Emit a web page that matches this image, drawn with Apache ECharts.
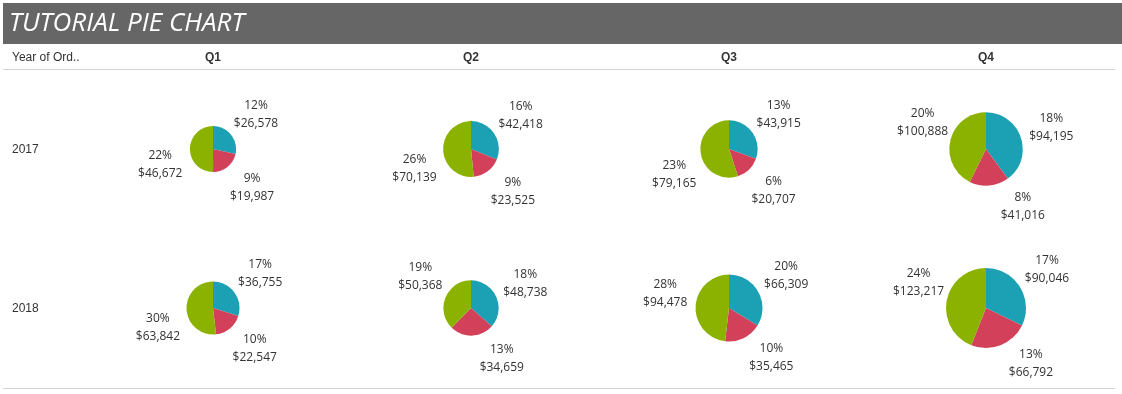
<!DOCTYPE html>
<html>
<head>
<meta charset="utf-8">
<script src="https://cdn.jsdelivr.net/npm/echarts@6/dist/echarts.min.js"></script>
<style>
html,body{margin:0;padding:0;background:#fff;}
#chart{width:1122px;height:394px;}
</style>
</head>
<body>
<div id="chart"></div>
<script>
// ---- data ----
const quarters = ['Q1', 'Q2', 'Q3', 'Q4'];
const years = ['2017', '2018'];
const tealValues  = [[26578, 42418, 43915, 94195], [36755, 48738, 66309, 90046]];
const redValues   = [[19987, 23525, 20707, 41016], [22547, 34659, 35465, 66792]];
const greenValues = [[46672, 70139, 79165, 100888], [63842, 50368, 94478, 123217]];
const tealPct  = [[12, 16, 13, 18], [17, 18, 20, 17]];
const redPct   = [[9, 9, 6, 8], [10, 13, 10, 13]];
const greenPct = [[22, 26, 23, 20], [30, 19, 28, 24]];

// ---- layout / style ----
const colX = [213, 471, 729, 986];
const rowY = [149, 308];
const colors = ['#1ca0b4', '#d2405a', '#8cb200'];
const maxRadius = 40;
const labelGap = 29;

let maxTotal = 0;
years.forEach((y, yi) => quarters.forEach((q, qi) => {
  const t = tealValues[yi][qi] + redValues[yi][qi] + greenValues[yi][qi];
  if (t > maxTotal) maxTotal = t;
}));

// label placement rule: labels drift away from the horizontal/vertical axes
function labelAngle(deg) {
  if (deg >= 110 && deg < 200) return 0.35 * deg + 85;
  if (deg >= 200) return deg < 272 ? deg - 17 : deg + 10;
  return deg;
}

const fmt = v => '$' + v.toLocaleString('en-US');
const series = [];
years.forEach((y, yi) => quarters.forEach((q, qi) => {
  const vals = [tealValues[yi][qi], redValues[yi][qi], greenValues[yi][qi]];
  const pcts = [tealPct[yi][qi], redPct[yi][qi], greenPct[yi][qi]];
  const total = vals[0] + vals[1] + vals[2];
  const r = maxRadius * Math.sqrt(total / maxTotal);
  const mids = [];
  let acc = 0;
  vals.forEach(v => { mids.push((acc + v / 2) / total * 360); acc += v; });
  const d = r + labelGap;
  // visible pie
  series.push({
    type: 'pie',
    center: [colX[qi], rowY[yi]],
    radius: [0, r],
    startAngle: 90,
    clockwise: true,
    avoidLabelOverlap: false,
    animation: false,
    silent: true,
    itemStyle: { borderWidth: 0 },
    label: { show: false },
    labelLine: { show: false },
    data: vals.map((v, i) => ({ value: v, itemStyle: { color: colors[i] } }))
  });
  // invisible ring that carries the centred labels
  series.push({
    type: 'pie',
    center: [colX[qi], rowY[yi]],
    radius: [d - 1, d + 1],
    startAngle: 90,
    clockwise: true,
    avoidLabelOverlap: false,
    animation: false,
    silent: true,
    itemStyle: { color: 'rgba(0,0,0,0)', borderWidth: 0 },
    label: {
      show: true,
      position: 'inside',
      rotate: 0,
      color: '#333',
      fontFamily: 'Open Sans',
      fontSize: 12,
      lineHeight: 18,
      textBorderWidth: 0,
      formatter: p => pcts[p.dataIndex] + '%\n' + fmt(p.value)
    },
    labelLine: { show: false },
    labelLayout: function (params) {
      const a0 = mids[params.dataIndex] * Math.PI / 180;
      const a1 = labelAngle(mids[params.dataIndex]) * Math.PI / 180;
      return {
        dx: d * (Math.sin(a1) - Math.sin(a0)),
        dy: -d * (Math.cos(a1) - Math.cos(a0))
      };
    },
    data: vals.map(v => ({ value: v }))
  });
}));

const graphics = [
  { type: 'rect', shape: { x: 3, y: 3, width: 1119, height: 41 }, style: { fill: '#666666' } },
  { type: 'text', x: 9, y: 24, style: { text: 'TUTORIAL PIE CHART', fill: '#ffffff', font: 'italic 26px "Open Sans"', textVerticalAlign: 'middle' } },
  { type: 'text', x: 12, y: 58, style: { text: 'Year of Ord..', fill: '#333', font: '12px "Liberation Sans"', textVerticalAlign: 'middle' } },
  { type: 'line', shape: { x1: 3, y1: 69.5, x2: 1115, y2: 69.5 }, style: { stroke: '#d4d4d4', lineWidth: 1 } },
  { type: 'line', shape: { x1: 3, y1: 388.5, x2: 1115, y2: 388.5 }, style: { stroke: '#d4d4d4', lineWidth: 1 } }
];
quarters.forEach((q, qi) => graphics.push({
  type: 'text', x: colX[qi], y: 58,
  style: { text: q, fill: '#333', font: 'bold 12px "Liberation Sans"', textAlign: 'center', textVerticalAlign: 'middle' }
}));
years.forEach((y, yi) => graphics.push({
  type: 'text', x: 12, y: rowY[yi] + 1,
  style: { text: y, fill: '#333', font: '12px "Liberation Sans"', textVerticalAlign: 'middle' }
}));

const chart = echarts.init(document.getElementById('chart'), null, { renderer: 'canvas' });
chart.setOption({
  backgroundColor: '#ffffff',
  animation: false,
  graphic: graphics,
  series: series
});
</script>
</body>
</html>
